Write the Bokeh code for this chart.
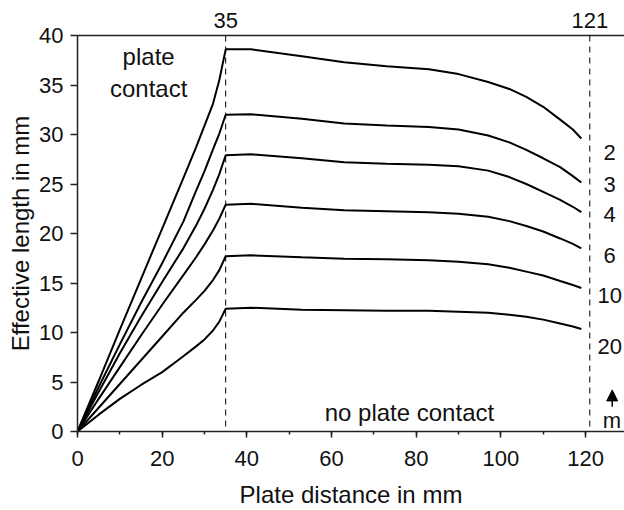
from bokeh.plotting import figure
from bokeh.models import (Range1d, LinearAxis, FixedTicker, SingleIntervalTicker,
                          Span, Label, Arrow, NormalHead, ColumnDataSource)
from bokeh.core.properties import value
from bokeh.embed import file_html
from bokeh.resources import INLINE

# ---- data ----
plate_distance = [0, 5, 10, 15, 20, 25, 28, 30, 32, 33.5, 35, 41, 53, 63, 73, 83, 90, 97,
                  102, 106, 110, 114, 117, 119]
length_m2 = [0, 5.1, 10.3, 15.4, 20.5, 25.6, 28.7, 30.9, 33.1, 35.5, 38.6, 38.6, 37.9, 37.3,
             36.9, 36.6, 36.1, 35.3, 34.6, 33.8, 32.8, 31.5, 30.5, 29.6]
length_m3 = [0, 4.5, 8.8, 13.0, 17.0, 21.2, 24.3, 26.3, 28.5, 30.1, 32.0, 32.05, 31.6, 31.1,
             30.9, 30.75, 30.5, 29.9, 29.2, 28.45, 27.6, 26.7, 25.8, 25.15]
length_m4 = [0, 4.0, 7.9, 11.6, 15.1, 18.5, 20.8, 22.5, 24.4, 26.0, 27.9, 28.0, 27.6, 27.2,
             27.05, 26.95, 26.8, 26.35, 25.7, 25.0, 24.2, 23.4, 22.7, 22.15]
length_m6 = [0, 3.3, 6.5, 9.7, 12.8, 15.8, 17.6, 18.9, 20.3, 21.5, 22.9, 23.0, 22.6, 22.35,
             22.25, 22.15, 22.0, 21.7, 21.25, 20.75, 20.2, 19.5, 18.95, 18.5]
length_m10 = [0, 2.4, 4.8, 7.2, 9.6, 12.0, 13.3, 14.2, 15.3, 16.3, 17.7, 17.8, 17.6, 17.45,
              17.4, 17.3, 17.15, 16.9, 16.55, 16.15, 15.75, 15.2, 14.8, 14.5]
length_m20 = [0, 1.7, 3.3, 4.7, 6.0, 7.6, 8.6, 9.3, 10.2, 11.1, 12.4, 12.5, 12.3, 12.25,
              12.2, 12.2, 12.1, 12.0, 11.8, 11.6, 11.3, 10.9, 10.6, 10.35]
m_labels = ["2", "3", "4", "6", "10", "20"]
contact_limit = 35
free_limit = 121
top_ticks = [35, 121]
y_ticks = [0, 5, 10, 15, 20, 25, 30, 35, 40]

series = [length_m2, length_m3, length_m4, length_m6, length_m10, length_m20]

FONT = "Liberation Sans"
AX = "#222222"
TXT = "#111111"

p = figure(width=624, height=510, output_backend="svg", toolbar_location=None,
           x_range=Range1d(0, 129.2), y_range=Range1d(0, 40),
           min_border_left=77, min_border_right=0, min_border_top=35, min_border_bottom=77,
           x_axis_label="Plate distance in mm", y_axis_label="Effective length in mm")
p.grid.visible = False
p.outline_line_color = None
p.background_fill_color = "white"
p.border_fill_color = "white"

for ys in series:
    p.line(plate_distance, ys, line_color="black", line_width=2)

for xv in (contact_limit, free_limit):
    p.add_layout(Span(location=xv, dimension="height", line_color="black",
                      line_width=1, line_dash="6 5"))

# bottom axis
xa = p.xaxis[0]
xa.ticker = SingleIntervalTicker(interval=20, num_minor_ticks=2)
xa.major_tick_in = 0
xa.major_tick_out = 6
xa.minor_tick_in = 0
xa.minor_tick_out = 3
xa.major_label_standoff = 13
xa.axis_label_standoff = 12

# left axis
ya = p.yaxis[0]
ya.ticker = FixedTicker(ticks=y_ticks)
ya.major_tick_in = 0
ya.major_tick_out = 7
ya.minor_tick_out = 0
ya.minor_tick_in = 0
ya.major_label_standoff = 7
ya.axis_label_standoff = 2

# top axis
ta = LinearAxis(ticker=FixedTicker(ticks=top_ticks))
ta.major_tick_in = 0
ta.major_tick_out = 0
ta.minor_tick_in = 0
ta.minor_tick_out = 0
ta.major_label_standoff = 8
p.add_layout(ta, "above")

for ax in (xa, ya, ta):
    ax.axis_line_color = AX
    ax.axis_line_width = 1.5
    ax.major_tick_line_color = AX
    ax.major_tick_line_width = 1.5
    ax.minor_tick_line_color = AX
    ax.minor_tick_line_width = 1.5
    ax.major_label_text_font = FONT
    ax.major_label_text_font_size = "22px"
    ax.major_label_text_color = TXT
    ax.axis_label_text_font = FONT
    ax.axis_label_text_font_size = "24px"
    ax.axis_label_text_font_style = "normal"
    ax.axis_label_text_color = TXT

# m labels at the right
label_y = [28.2, 24.9, 21.9, 17.8, 13.7, 8.6]
src = ColumnDataSource(dict(x=[125.7] * len(m_labels), y=label_y, t=m_labels))
p.text(x="x", y="y", text="t", source=src, text_align="center", text_baseline="middle",
       text_font=value(FONT), text_font_size="22px", text_color=TXT)

p.add_layout(Arrow(end=NormalHead(size=11, fill_color="black", line_color="black", line_width=1),
                   x_start=126.3, y_start=2.5, x_end=126.3, y_end=4.2,
                   line_color="black", line_width=1.5))
p.add_layout(Label(x=126.2, y=1.14, text="m", text_align="center", text_baseline="alphabetic",
                   text_font=FONT, text_font_size="22px", text_color=TXT))

for txt, yy in (("plate", 37.9), ("contact", 34.6)):
    p.add_layout(Label(x=16.8, y=yy, text=txt, text_align="center", text_baseline="alphabetic",
                       text_font=FONT, text_font_size="24px", text_color=TXT))
p.add_layout(Label(x=78.4, y=1.9, text="no plate contact", text_align="center",
                   text_baseline="alphabetic", text_font=FONT, text_font_size="24px",
                   text_color=TXT))

open("out.html", "w").write(file_html(p, INLINE))
